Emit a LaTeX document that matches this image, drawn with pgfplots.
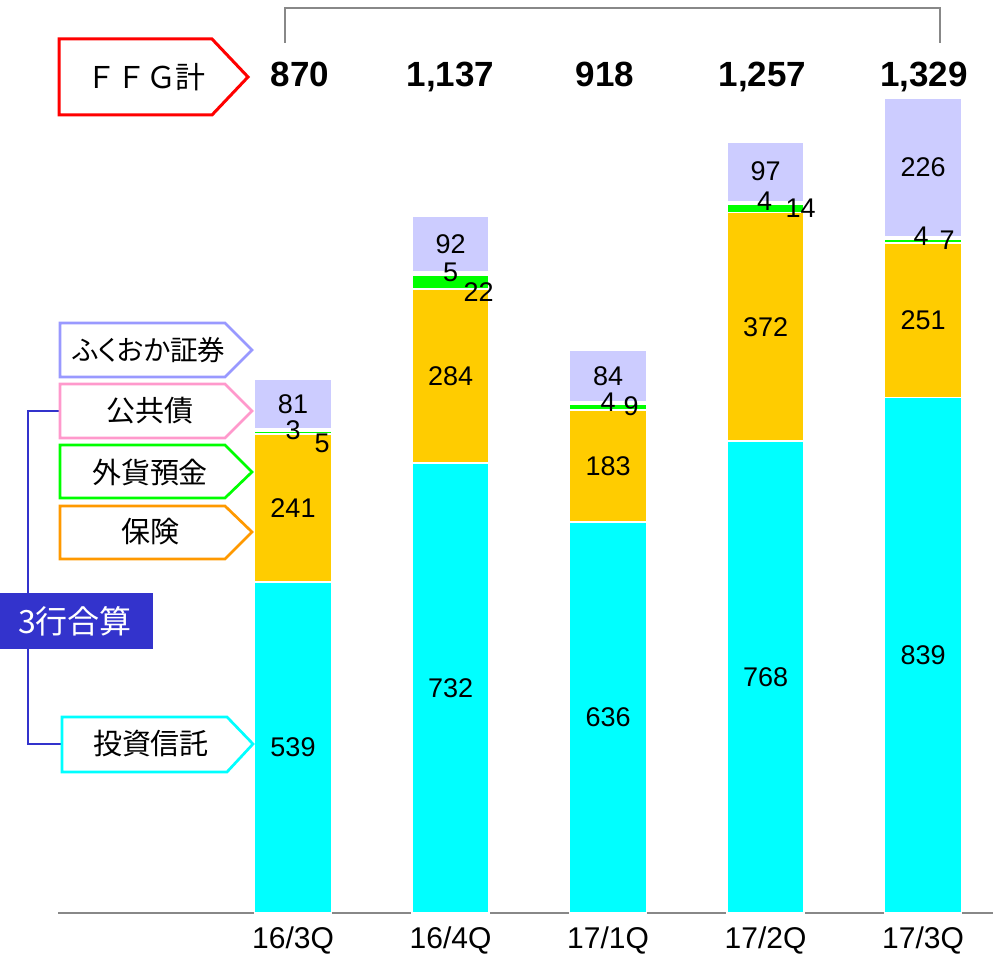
\documentclass[border=0pt]{standalone}
\usepackage{fontspec}
\setmainfont{Liberation Sans}
\newfontfamily\jp{Noto Sans CJK JP}
\newfontfamily\jpp[RawFeature={+palt}]{Noto Sans CJK JP}
\usepackage{pgfplots}
\pgfplotsset{compat=1.18}
\definecolor{cInv}{HTML}{00FFFF}
\definecolor{cIns}{HTML}{FFCC00}
\definecolor{cFx}{HTML}{00FF00}
\definecolor{cPub}{HTML}{FFFFFF}
\definecolor{cSec}{HTML}{CCCCFF}
\definecolor{bSec}{HTML}{9999FF}
\definecolor{bPub}{HTML}{FF99CC}
\definecolor{bIns}{HTML}{FF9900}
\definecolor{bBlue}{HTML}{3333CC}
\definecolor{axgray}{HTML}{888888}
\newcommand\valfont{\fontsize{13.5pt}{13.5pt}\selectfont}
\newcommand\tickfont{\fontsize{15pt}{15pt}\selectfont}
\newcommand\totfont{\fontsize{17.5pt}{17.5pt}\selectfont\bfseries}
\newcommand\jpfont{\jp\fontsize{14.5pt}{14.5pt}\selectfont}
\tikzset{vl/.style={font=\valfont, inner sep=0pt}, tot/.style={font=\totfont, inner sep=0pt, anchor=base}}
\begin{document}
\begin{tikzpicture}
\useasboundingbox (0,0) rectangle (496.5pt,478pt);
\begin{axis}[
  at={(29pt,21.5pt)}, anchor=south west,
  scale only axis, width=467.5pt, height=456.5pt,
  xmin=-1.492, xmax=4.444, ymin=0, ymax=1486,
  ybar stacked, bar width=38.5pt,
  axis x line=bottom, axis y line=none,
  x axis line style={draw=axgray, line width=1pt, -},
  xtick={0,1,2,3,4},
  xticklabels={16/3Q,16/4Q,17/1Q,17/2Q,17/3Q},
  major tick length=0pt, ytick=\empty,
  xticklabel style={font=\tickfont, yshift=-3.5pt},
  clip=false,
]
\addplot[fill=cInv, draw=white, line width=0.9pt] coordinates {(0,539) (1,732) (2,636) (3,768) (4,839)};
\addplot[fill=cIns, draw=white, line width=0.9pt] coordinates {(0,241) (1,284) (2,183) (3,372) (4,251)};
\addplot[fill=cFx, draw=white, line width=0.9pt] coordinates {(0,5) (1,22) (2,9) (3,14) (4,7)};
\addplot[fill=cPub, draw=white, line width=0.9pt] coordinates {(0,3) (1,5) (2,4) (3,4) (4,4)};
\addplot[fill=cSec, draw=white, line width=0.9pt] coordinates {(0,81) (1,92) (2,84) (3,97) (4,226)};
% label anchors
\coordinate (i0) at (axis cs:0,269.5);
\coordinate (i1) at (axis cs:1,366);
\coordinate (i2) at (axis cs:2,318);
\coordinate (i3) at (axis cs:3,384);
\coordinate (i4) at (axis cs:4,419.5);
\coordinate (h0) at (axis cs:0,659.5);
\coordinate (h1) at (axis cs:1,874);
\coordinate (h2) at (axis cs:2,727.5);
\coordinate (h3) at (axis cs:3,954);
\coordinate (h4) at (axis cs:4,964.5);
\coordinate (s0) at (axis cs:0,828.5);
\coordinate (s1) at (axis cs:1,1089);
\coordinate (s2) at (axis cs:2,874);
\coordinate (s3) at (axis cs:3,1206.5);
\coordinate (s4) at (axis cs:4,1214);
\coordinate (p0) at (axis cs:0,786);
\coordinate (p1) at (axis cs:1,1043);
\coordinate (p2) at (axis cs:2,831.6);
\coordinate (p3) at (axis cs:3,1158.7);
\coordinate (p4) at (axis cs:4,1101.7);
\coordinate (f0) at (axis cs:0,764.8);
\coordinate (f1) at (axis cs:1,1010.6);
\coordinate (f2) at (axis cs:2,825);
\coordinate (f3) at (axis cs:3,1147);
\coordinate (f4) at (axis cs:4,1095);
\coordinate (t0) at (axis cs:0,1345.8);
\coordinate (t1) at (axis cs:1,1345.8);
\coordinate (t2) at (axis cs:2,1345.8);
\coordinate (t3) at (axis cs:3,1345.8);
\coordinate (t4) at (axis cs:4,1345.8);
\end{axis}
\node[vl] at (i0) {539};
\node[vl] at (i1) {732};
\node[vl] at (i2) {636};
\node[vl] at (i3) {768};
\node[vl] at (i4) {839};
\node[vl] at (h0) {241};
\node[vl] at (h1) {284};
\node[vl] at (h2) {183};
\node[vl] at (h3) {372};
\node[vl] at (h4) {251};
\node[vl] at (s0) {81};
\node[vl] at (s1) {92};
\node[vl] at (s2) {84};
\node[vl] at (s3) {97};
\node[vl] at (s4) {226};
\node[vl] at (p0) {3};
\node[vl] at (p1) {5};
\node[vl] at (p2) {4};
\node[vl, xshift=-0.5pt] at (p3) {4};
\node[vl, xshift=-1pt] at (p4) {4};
\node[vl, xshift=14.5pt] at (f0) {5};
\node[vl, xshift=14pt] at (f1) {22};
\node[vl, xshift=11.5pt] at (f2) {9};
\node[vl, xshift=17.5pt] at (f3) {14};
\node[vl, xshift=12pt] at (f4) {7};
\node[tot, xshift=3.5pt] at (t0) {870};
\node[tot] at (t1) {1,137};
\node[tot, xshift=-1.5pt] at (t2) {918};
\node[tot, xshift=-1.5pt] at (t3) {1,257};
\node[tot, xshift=0.5pt] at (t4) {1,329};
\begin{scope}[x=0.5pt, y=-0.5pt, yshift=478pt, line join=miter]
\draw[axgray, line width=1pt] (285,43) -- (285,8) -- (940,8) -- (940,43);
\draw[red, line width=1.5pt, fill=white] (59,39) -- (212,39) -- (248,77) -- (212,115) -- (59,115) -- cycle;
\node[font=\jp\fontsize{15pt}{15pt}\selectfont] at (146,77) {ＦＦＧ計};
\draw[bBlue, line width=1.2pt] (62,411) -- (28,411) -- (28,744) -- (62,744);
\draw[bSec, line width=1.35pt, fill=white] (60,323) -- (225,323) -- (252,350) -- (225,377) -- (60,377) -- cycle;
\node[font=\jpp\fontsize{13.8pt}{13.8pt}\selectfont] at (149,350) {ふくおか証券};
\draw[bPub, line width=1.35pt, fill=white] (60,384) -- (225,384) -- (252,411) -- (225,438) -- (60,438) -- cycle;
\node[font=\jpfont] at (150,411) {公共債};
\draw[cFx, line width=1.35pt, fill=white] (60,445) -- (225,445) -- (252,472) -- (225,498) -- (60,498) -- cycle;
\node[font=\jpfont] at (150,472) {外貨預金};
\draw[bIns, line width=1.35pt, fill=white] (60,506) -- (225,506) -- (252,532) -- (225,559) -- (60,559) -- cycle;
\node[font=\jpfont] at (150,532) {保険};
\draw[cInv, line width=1.35pt, fill=white] (62,717) -- (227,717) -- (253,744) -- (227,772) -- (62,772) -- cycle;
\node[font=\jpfont] at (151,744) {投資信託};
\fill[bBlue] (0,593) rectangle (153,649);
\node[font=\jp\fontsize{16pt}{16pt}\selectfont, text=white] at (75,621) {3行合算};
\end{scope}
\end{tikzpicture}
\end{document}
